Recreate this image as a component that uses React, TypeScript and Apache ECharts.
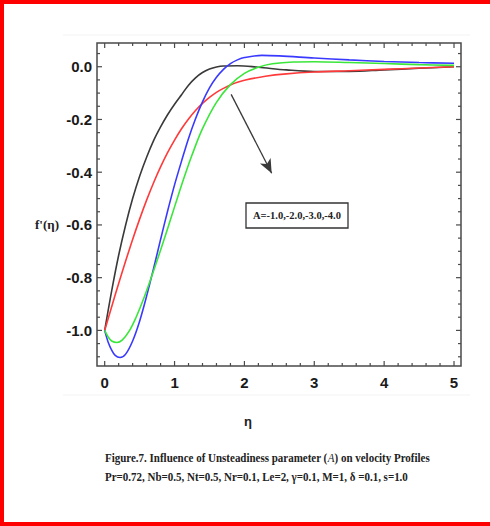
import React, { useEffect, useRef } from "react";
import * as echarts from "echarts";

// ---- data ----
const etaBlack = [0, 0.1, 0.2, 0.3, 0.4, 0.5, 0.6, 0.7, 0.8, 0.9, 1.0, 1.1, 1.2, 1.3, 1.4, 1.5, 1.6, 1.7, 1.9, 2.2, 2.6, 3.0, 3.5, 4.0, 4.5, 5.0];
const fBlack = [-1.0, -0.85, -0.715, -0.6, -0.5, -0.415, -0.343, -0.28, -0.228, -0.182, -0.142, -0.106, -0.07, -0.042, -0.022, -0.009, -0.001, 0.003, 0.004, -0.002, -0.012, -0.018, -0.018, -0.012, -0.006, 0.0];

const etaRed = [0, 0.1, 0.2, 0.3, 0.4, 0.5, 0.6, 0.7, 0.8, 0.9, 1.0, 1.1, 1.2, 1.3, 1.4, 1.5, 1.6, 1.7, 1.8, 1.9, 2.0, 2.3, 2.6, 3.0, 3.5, 4.0, 4.5, 5.0];
const fRed = [-1.0, -0.91, -0.822, -0.737, -0.655, -0.578, -0.506, -0.44, -0.38, -0.326, -0.278, -0.235, -0.198, -0.166, -0.139, -0.116, -0.097, -0.082, -0.069, -0.059, -0.051, -0.036, -0.027, -0.02, -0.015, -0.01, -0.005, 0.0];

const etaBlue = [0, 0.05, 0.1, 0.15, 0.22, 0.3, 0.4, 0.5, 0.6, 0.7, 0.8, 0.9, 1.0, 1.1, 1.2, 1.3, 1.4, 1.5, 1.6, 1.7, 1.8, 1.9, 2.0, 2.25, 2.5, 3.0, 3.5, 4.0, 4.5, 5.0];
const fBlue = [-1.0, -1.045, -1.075, -1.095, -1.103, -1.09, -1.04, -0.965, -0.87, -0.765, -0.655, -0.548, -0.448, -0.358, -0.272, -0.197, -0.133, -0.08, -0.04, -0.01, 0.012, 0.026, 0.035, 0.043, 0.041, 0.033, 0.026, 0.02, 0.016, 0.013];

const etaGreen = [0, 0.05, 0.1, 0.175, 0.25, 0.35, 0.45, 0.55, 0.65, 0.75, 0.85, 0.95, 1.05, 1.15, 1.25, 1.4, 1.6, 1.8, 2.0, 2.2, 2.4, 2.7, 3.0, 3.5, 4.0, 4.5, 5.0];
const fGreen = [-1.0, -1.025, -1.04, -1.046, -1.037, -1.003, -0.95, -0.885, -0.812, -0.735, -0.655, -0.573, -0.49, -0.41, -0.335, -0.235, -0.135, -0.068, -0.025, -0.002, 0.011, 0.018, 0.019, 0.016, 0.012, 0.008, 0.005];

const xMajorTicks = [0, 1, 2, 3, 4, 5];
const xMinorTicks = [0.2, 0.4, 0.6, 0.8, 1.2, 1.4, 1.6, 1.8, 2.2, 2.4, 2.6, 2.8, 3.2, 3.4, 3.6, 3.8, 4.2, 4.4, 4.6, 4.8];
const yMajorTicks = [-1.0, -0.8, -0.6, -0.4, -0.2, 0.0];
const yMinorTicks = [-1.1, -1.05, -0.95, -0.9, -0.85, -0.75, -0.7, -0.65, -0.55, -0.5, -0.45, -0.35, -0.3, -0.25, -0.15, -0.1, -0.05, 0.05];

const arrowFrom = [1.81, -0.105];
const arrowTo = [2.39, -0.404];

const X_MIN = -0.11;
const X_MAX = 5.1;
const Y_MIN = -1.135;
const Y_MAX = 0.09;

const zip = (xs: number[], ys: number[]) => xs.map((x, i) => [x, ys[i]]);

export default function App() {
  const ref = useRef<HTMLDivElement>(null);
  useEffect(() => {
    if (!ref.current) return;
    const chart = echarts.init(ref.current, null, { renderer: "svg" });
    const tickData = [
      ...xMajorTicks.map((v) => [v, 0]),
      ...xMinorTicks.map((v) => [v, 1]),
      ...yMajorTicks.map((v) => [v, 2]),
      ...yMinorTicks.map((v) => [v, 3]),
    ];
    const frameColor = "#4a4a4a";
    const lineStyle = (c: string) => ({ color: c, width: 1.6 });
    const curve = (name: string, xs: number[], ys: number[], color: string, extra: any = {}) => ({
      type: "line",
      name,
      data: zip(xs, ys),
      smooth: 0.35,
      showSymbol: false,
      lineStyle: lineStyle(color),
      ...extra,
    });
    const option: any = {
      animation: false,
      backgroundColor: "#ffffff",
      grid: {
        left: 97,
        top: 43,
        width: 364,
        height: 323,
        show: true,
        borderColor: frameColor,
        borderWidth: 1.5,
        backgroundColor: "transparent",
      },
      xAxis: {
        type: "value",
        min: X_MIN,
        max: X_MAX,
        splitNumber: 5,
        axisLine: { show: false },
        axisTick: { show: false },
        splitLine: { show: false },
        axisLabel: {
          showMinLabel: false,
          showMaxLabel: false,
          margin: 9,
          fontFamily: "Liberation Sans",
          fontWeight: "bold",
          fontSize: 15,
          color: "#1a1a1a",
          formatter: (v: number) => String(Math.round(v)),
        },
      },
      yAxis: {
        type: "value",
        min: Y_MIN,
        max: Y_MAX,
        splitNumber: 5,
        axisLine: { show: false },
        axisTick: { show: false },
        splitLine: { show: false },
        axisLabel: {
          showMinLabel: false,
          showMaxLabel: false,
          margin: 5,
          fontFamily: "Liberation Sans",
          fontWeight: "bold",
          fontSize: 15,
          color: "#1a1a1a",
          formatter: (v: number) => (Math.abs(v) < 1e-9 ? "0.0" : (v < 0 ? "-" : "") + Math.abs(v).toFixed(1)),
        },
      },
      series: [
        {
          type: "custom",
          silent: true,
          clip: false,
          encode: { x: 0, y: 1 },
          data: tickData,
          renderItem: (params: any, api: any) => {
            const v = api.value(0);
            const kind = api.value(1);
            const len = kind % 2 === 0 ? 5 : 3;
            const st = { stroke: frameColor, lineWidth: 1.2 };
            if (kind < 2) {
              const pb = api.coord([v, Y_MIN]);
              const pt = api.coord([v, Y_MAX]);
              return {
                type: "group",
                children: [
                  { type: "line", shape: { x1: pb[0], y1: pb[1], x2: pb[0], y2: pb[1] - len }, style: st },
                  { type: "line", shape: { x1: pt[0], y1: pt[1], x2: pt[0], y2: pt[1] + len }, style: st },
                ],
              };
            }
            const pl = api.coord([X_MIN, v]);
            const pr = api.coord([X_MAX, v]);
            return {
              type: "group",
              children: [
                { type: "line", shape: { x1: pl[0], y1: pl[1], x2: pl[0] + len, y2: pl[1] }, style: st },
                { type: "line", shape: { x1: pr[0], y1: pr[1], x2: pr[0] - len, y2: pr[1] }, style: st },
              ],
            };
          },
        },
        curve("A=-1.0", etaBlack, fBlack, "#3a3a3a", {
          markLine: {
            silent: true,
            symbol: ["none", "arrow"],
            symbolSize: [9, 14],
            label: { show: false },
            lineStyle: { color: "#3a3a3a", width: 1.3, type: "solid" },
            data: [[{ coord: arrowFrom }, { coord: arrowTo }]],
          },
        }),
        curve("A=-2.0", etaRed, fRed, "#ff3a3a"),
        curve("A=-3.0", etaBlue, fBlue, "#3a3aff"),
        curve("A=-4.0", etaGreen, fGreen, "#3ae63a"),
      ],
      graphic: [
        { type: "rect", shape: { x: 0, y: 0, width: 490, height: 4 }, style: { fill: "#ff0000" } },
        { type: "rect", shape: { x: 0, y: 0, width: 4, height: 526 }, style: { fill: "#ff0000" } },
        { type: "rect", shape: { x: 0, y: 522, width: 490, height: 4 }, style: { fill: "#ff0000" } },
        { type: "line", shape: { x1: 63, y1: 35, x2: 470, y2: 35 }, style: { stroke: "#f3f3f3", lineWidth: 1 } },
        { type: "line", shape: { x1: 63, y1: 395, x2: 470, y2: 395 }, style: { stroke: "#f3f3f3", lineWidth: 1 } },
        {
          type: "rect",
          shape: { x: 246, y: 203, width: 102, height: 25 },
          style: { fill: "#ffffff", stroke: "#333333", lineWidth: 1.3 },
        },
        {
          type: "text",
          x: 297,
          y: 215.5,
          style: {
            text: "A=-1.0,-2.0,-3.0,-4.0",
            fontFamily: "Liberation Serif",
            fontWeight: "bold",
            fontSize: 10.5,
            fill: "#222",
            textAlign: "center",
            textVerticalAlign: "middle",
          },
        },
        {
          type: "text",
          x: 47,
          y: 224,
          style: {
            text: "f'(η)",
            fontFamily: "Liberation Serif",
            fontWeight: "bold",
            fontSize: 13,
            fill: "#222",
            textAlign: "center",
            textVerticalAlign: "middle",
          },
        },
        {
          type: "text",
          x: 248,
          y: 421,
          style: {
            text: "η",
            fontFamily: "Liberation Sans",
            fontWeight: "bold",
            fontSize: 13,
            fill: "#222",
            textAlign: "center",
            textVerticalAlign: "middle",
          },
        },
        {
          type: "text",
          x: 105,
          y: 458,
          scaleX: 0.845,
          style: {
            text: "Figure.7. Influence of Unsteadiness parameter ({i|A}) on velocity Profiles",
            fontFamily: "Liberation Serif",
            fontWeight: "bold",
            fontSize: 13,
            fill: "#222",
            textAlign: "left",
            textVerticalAlign: "middle",
            rich: {
              i: { fontFamily: "Liberation Serif", fontStyle: "italic", fontWeight: "normal", fontSize: 13, fill: "#222" },
            },
          },
        },
        {
          type: "text",
          x: 105,
          y: 477,
          scaleX: 0.845,
          style: {
            text: "Pr=0.72, Nb=0.5, Nt=0.5, Nr=0.1, Le=2, γ=0.1, M=1, δ =0.1, s=1.0",
            fontFamily: "Liberation Serif",
            fontWeight: "bold",
            fontSize: 13,
            fill: "#222",
            textAlign: "left",
            textVerticalAlign: "middle",
          },
        },
      ],
    };
    chart.setOption(option);
    return () => chart.dispose();
  }, []);
  return (
    <div
      ref={ref}
      style={{ position: "fixed", left: 0, top: 0, width: 490, height: 526, background: "#fff" }}
    />
  );
}
